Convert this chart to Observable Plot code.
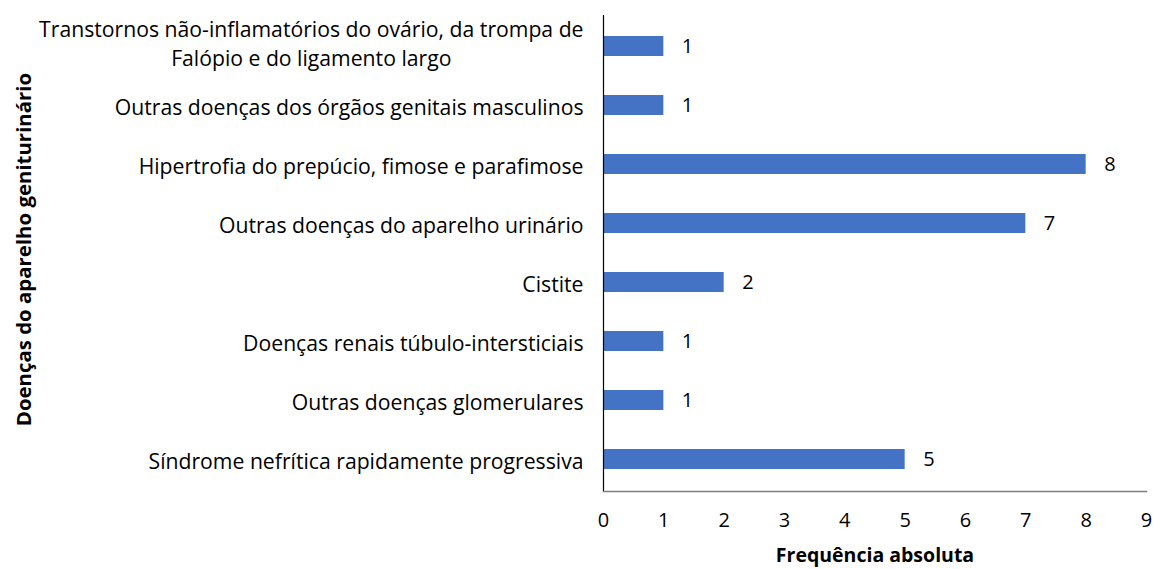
<!DOCTYPE html>
<html>
<head>
<meta charset="utf-8">
<script src="https://cdn.jsdelivr.net/npm/d3@7"></script>
<script src="https://cdn.jsdelivr.net/npm/@observablehq/plot@0.6"></script>
<style>
  html, body { margin: 0; padding: 0; background: #fff; }
</style>
</head>
<body>
<div id="chart"></div>
<script>
const categories = [
  "Transtornos não-inflamatórios do ovário, da trompa de\nFalópio e do ligamento largo",
  "Outras doenças dos órgãos genitais masculinos",
  "Hipertrofia do prepúcio, fimose e parafimose",
  "Outras doenças do aparelho urinário",
  "Cistite",
  "Doenças renais túbulo-intersticiais",
  "Outras doenças glomerulares",
  "Síndrome nefrítica rapidamente progressiva"
];
const values = [1, 1, 8, 7, 2, 1, 1, 5];
const xTicks = [0, 1, 2, 3, 4, 5, 6, 7, 8, 9];
const xTitle = "Frequência absoluta";
const yTitle = "Doenças do aparelho geniturinário";

const data = categories.map((c, i) => ({name: c, value: values[i]}));

const chart = Plot.plot({
  width: 1154,
  height: 569,
  marginLeft: 603,
  marginRight: 8,
  marginTop: 15,
  marginBottom: 78,
  style: {fontFamily: "'Open Sans', sans-serif", fontSize: "20px", color: "#000", background: "#fff"},
  x: {domain: [0, 9], ticks: xTicks},
  y: {domain: categories, paddingInner: 0.66, paddingOuter: 0.33},
  marks: [
    Plot.barX(data, {x: "value", y: "name", fill: "#4472C4"}),
    Plot.text(data, {x: "value", y: "name", text: d => String(d.value), textAnchor: "start", dx: 18, fill: "#000", fontSize: 20}),
    Plot.frame({anchor: "bottom", stroke: "#7f7f7f", strokeWidth: 1.5}),
    Plot.ruleX([0], {stroke: "#000", strokeWidth: 1.2}),
    Plot.axisX({ticks: xTicks, tickSize: 0, tickPadding: 21, label: xTitle, labelAnchor: "center", labelOffset: 70, labelArrow: false}),
    Plot.axisY({tickSize: 0, tickPadding: 20, fontSize: 21.2, lineHeight: 1.33, label: yTitle, labelAnchor: "center", labelOffset: 587, labelArrow: false})
  ]
});

document.getElementById("chart").appendChild(chart);

// Bold axis titles
chart.querySelectorAll('g[aria-label="x-axis label"] text').forEach(t => {
  t.setAttribute("font-weight", "bold");
  t.setAttribute("font-size", "19.5");
});
chart.querySelectorAll('g[aria-label="y-axis label"] text').forEach(t => {
  t.setAttribute("font-weight", "bold");
  t.setAttribute("font-size", "20.4");
  const g = document.createElementNS("http://www.w3.org/2000/svg", "g");
  g.setAttribute("transform", "translate(0,-4)");
  t.parentNode.insertBefore(g, t);
  g.appendChild(t);
});

// Center lines within multi-line y tick labels (as in the original)
chart.querySelectorAll('g[aria-label="y-axis tick label"] text').forEach(t => {
  const spans = t.querySelectorAll("tspan");
  if (spans.length > 1) {
    let maxW = 0;
    spans.forEach(s => { maxW = Math.max(maxW, s.getComputedTextLength()); });
    t.setAttribute("text-anchor", "middle");
    spans.forEach(s => s.setAttribute("x", -maxW / 2));
    const g = document.createElementNS("http://www.w3.org/2000/svg", "g");
    g.setAttribute("transform", "translate(0,-4)");
    t.parentNode.insertBefore(g, t);
    g.appendChild(t);
  }
});
</script>
</body>
</html>
